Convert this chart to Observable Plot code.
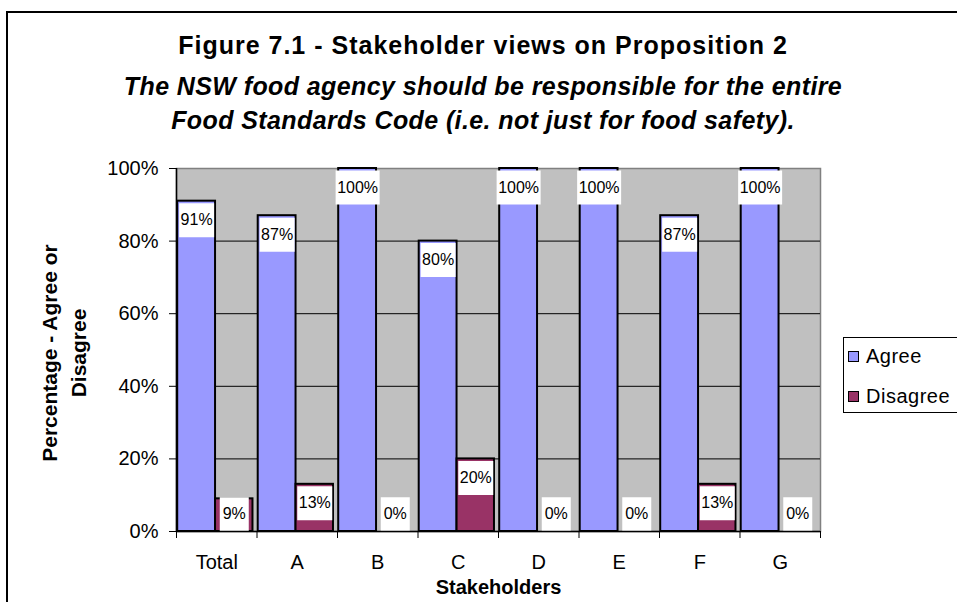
<!DOCTYPE html>
<html>
<head>
<meta charset="utf-8">
<script src="https://cdn.jsdelivr.net/npm/d3@7"></script>
<script src="https://cdn.jsdelivr.net/npm/@observablehq/plot@0.6"></script>
<style>
  html, body { margin: 0; padding: 0; background: #fff; }
  #wrap { position: relative; width: 957px; height: 602px; overflow: hidden; background: #fff;
          font-family: "Liberation Sans", Arial, sans-serif; color: #000; }
  #border { position: absolute; left: 6px; top: 11px; width: 1000px; height: 700px;
            border: 2px solid #000; box-sizing: border-box; }
  .t { position: absolute; left: 0; width: 966px; text-align: center; white-space: nowrap; }
  #title { top: 31px; font-size: 25px; font-weight: bold; letter-spacing: 1px; }
  #sub1 { top: 72px; font-size: 25px; font-weight: bold; font-style: italic; letter-spacing: 0.4px; }
  #sub2 { top: 106px; font-size: 25px; font-weight: bold; font-style: italic; letter-spacing: 0.4px; }
  #plot { position: absolute; left: 0; top: 0; }
  #legend { position: absolute; left: 843px; top: 337px; width: 140px; height: 76px;
            border: 1px solid #000; background: #fff; box-sizing: border-box; }
  .li { position: absolute; left: 4px; font-size: 20px; line-height: 22px; white-space: nowrap; letter-spacing: 0.5px; }
  .sw { display: inline-block; width: 9px; height: 9px; border: 1px solid #000; margin-right: 7px;
        vertical-align: 1px; }
</style>
</head>
<body>
<div id="wrap">
  <div id="border"></div>
  <div class="t" id="title">Figure 7.1 - Stakeholder views on Proposition 2</div>
  <div class="t" id="sub1">The NSW food agency should be responsible for the entire</div>
  <div class="t" id="sub2">Food Standards Code (i.e. not just for food safety).</div>
  <div id="plot"></div>
  <div id="legend"></div>
</div>
<script>
const categories = ["Total", "A", "B", "C", "D", "E", "F", "G"];
const agree      = [0.91, 0.87, 1.00, 0.80, 1.00, 1.00, 0.87, 1.00];
const disagree   = [0.09, 0.13, 0.00, 0.20, 0.00, 0.00, 0.13, 0.00];
const series     = ["Agree", "Disagree"];
const seriesColors = ["#9999FF", "#993366"];
const yTicks     = [0, 0.2, 0.4, 0.6, 0.8, 1.0];
const yGrid      = [0.2, 0.4, 0.6, 0.8];
const yTitle     = "Percentage - Agree or\nDisagree";
const xTitle     = "Stakeholders";

// slot of each series inside a category band (fraction of the band)
const slot = {Agree: [0.015, 0.485], Disagree: [0.485, 0.95]};

const rows = categories.flatMap((c, i) => [
  {cat: c, i, series: "Agree", value: agree[i]},
  {cat: c, i, series: "Disagree", value: disagree[i]}
]);
const fmt = v => Math.round(v * 100) + "%";
const cx = d => d.i + (slot[d.series][0] + slot[d.series][1]) / 2;
const labelY = d => d.series === "Agree" ? d.value : Math.max(d.value, 0.1);

const box = {draw(ctx, size) { const w = Math.sqrt(size / Math.PI); ctx.rect(-w / 2, -17, w, 34); }};
const boxWidths = {4: 44, 3: 35, 2: 29};

const font = "Liberation Sans, Arial, sans-serif";

const chart = Plot.plot({
  width: 957,
  height: 602,
  marginTop: 168,
  marginBottom: 71,
  marginLeft: 176,
  marginRight: 137,
  style: {fontFamily: font, fontSize: "19px", color: "#000", background: "transparent", overflow: "visible"},
  x: {type: "linear", domain: [0, categories.length], axis: null},
  y: {domain: [0, 1], axis: null},
  color: {domain: series, range: seriesColors},
  marks: [
    Plot.frame({fill: "#C0C0C0", stroke: "#808080", strokeWidth: 1.5}),
    Plot.ruleY(yGrid, {stroke: "#000", strokeWidth: 1}),
    Plot.rectY(rows.filter(d => d.value > 0), {
      x1: d => d.i + slot[d.series][0],
      x2: d => d.i + slot[d.series][1],
      y1: 0, y2: "value",
      fill: "series", stroke: "#000", strokeWidth: 2
    }),
    ...Object.entries(boxWidths).map(([len, w]) =>
      Plot.dot(rows.filter(d => fmt(d.value).length === +len), {
        x: cx, y: labelY, dy: 19, r: w, symbol: box, fill: "#fff", stroke: "none"
      })),
    Plot.text(rows, {x: cx, y: labelY, dy: 19, text: d => fmt(d.value), fontSize: 16, fill: "#000", letterSpacing: 0.8}),
    Plot.ruleX([0], {stroke: "#000", strokeWidth: 1.5}),
    Plot.ruleY([0], {stroke: "#000", strokeWidth: 1.5}),
    Plot.axisY(yTicks, {tickFormat: fmt, tickSize: 7, tickPadding: 11, fontSize: 20, stroke: "#000", label: null}),
    Plot.axisX(d3.range(categories.length + 1), {tickFormat: () => "", tickSize: 7, stroke: "#000", label: null}),
    Plot.axisX(categories.map((c, i) => i + 0.5), {tickFormat: v => categories[Math.floor(v)], tickSize: 0, tickPadding: 23, fontSize: 20, label: null}),
    Plot.text([xTitle], {frameAnchor: "bottom", dy: 62, fontSize: 20, fontWeight: "bold", letterSpacing: 1.8}),
    Plot.text([yTitle], {frameAnchor: "left", dx: -114, dy: 3, rotate: -90, textAnchor: "middle", fontSize: 21, fontWeight: "bold", letterSpacing: 2, lineHeight: 1.38})
  ]
});
document.getElementById("plot").appendChild(chart);

const legend = document.getElementById("legend");
series.forEach((s, k) => {
  const el = document.createElement("div");
  el.className = "li";
  el.style.top = (7 + k * 40) + "px";
  el.innerHTML = `<span class="sw" style="background:${seriesColors[k]}"></span>${s}`;
  legend.appendChild(el);
});
</script>
</body>
</html>
